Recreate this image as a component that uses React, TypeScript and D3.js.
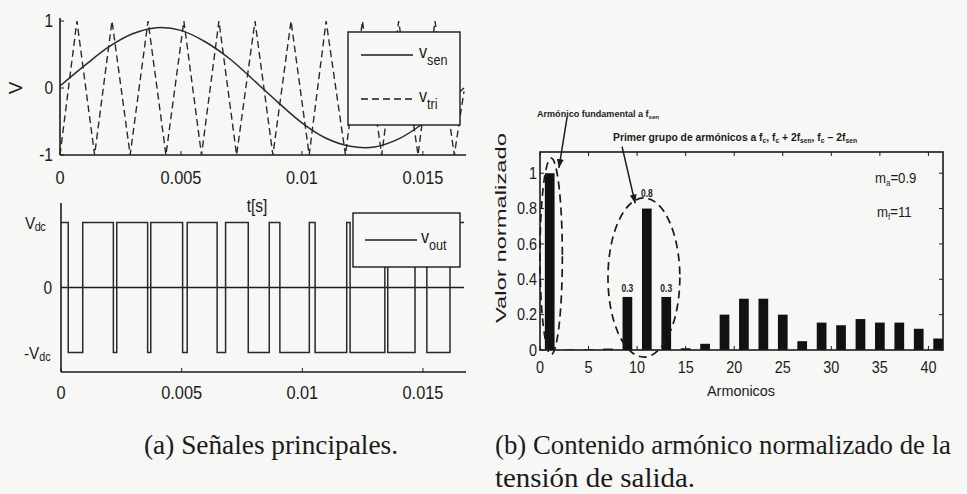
import React, { useEffect, useRef } from "react";
import * as d3 from "d3";

// (a) top: reference sine, read every 1 ms off the picture
const sineTimes = [0, 0.001, 0.002, 0.003, 0.004, 0.005, 0.006, 0.007, 0.008, 0.009, 0.01, 0.011, 0.012, 0.013, 0.014, 0.015, 0.016, 0.0167];
const sineValues = [0.03, 0.33, 0.61, 0.81, 0.9, 0.86, 0.69, 0.44, 0.12, -0.21, -0.52, -0.75, -0.87, -0.88, -0.76, -0.53, -0.22, 0];

// (a) top: triangular carrier, peaks and troughs
const triTimes = [0, 0.0007, 0.00143, 0.00215, 0.0029, 0.00364, 0.00438, 0.00512, 0.00585, 0.00657, 0.0073, 0.00806, 0.0088, 0.00955, 0.0103, 0.011, 0.0118, 0.0125, 0.0133, 0.014, 0.0148, 0.0155, 0.0163, 0.0167];
const triValues = [-1, 1, -1, 1, -1, 1, -1, 1, -1, 1, -1, 1, -1, 1, -1, 1, -1, 1, -1, 1, -1, 1, -1, -0.05];

// (a) bottom: v_out starts at +Vdc and toggles at these instants
const outStartLevel = 1;
const outSwitchTimes = [0.0003, 0.0009, 0.00217, 0.00231, 0.00359, 0.00372, 0.00504, 0.00523, 0.00647, 0.00682, 0.00776, 0.00863, 0.00907, 0.01029, 0.01053, 0.01184, 0.01198, 0.01342, 0.01354, 0.01467, 0.01516, 0.01612];
const timeEnd = 0.0167;

const timeTicks = [0, 0.005, 0.01, 0.015];
const timeTickLabels = ["0", "0.005", "0.01", "0.015"];
const signalTicks = [1, 0, -1];
const signalTickLabels = ["1", "0", "-1"];

// (b) normalized harmonic content
const harmonicOrders = [1, 3, 5, 7, 9, 11, 13, 15, 17, 19, 21, 23, 25, 27, 29, 31, 33, 35, 37, 39, 41];
const harmonicValues = [1.0, 0.003, 0.004, 0.008, 0.3, 0.8, 0.3, 0.01, 0.035, 0.2, 0.29, 0.29, 0.2, 0.05, 0.155, 0.14, 0.175, 0.155, 0.155, 0.12, 0.065];
const harmonicTicks = [0, 5, 10, 15, 20, 25, 30, 35, 40];
const normTicks = [0, 0.2, 0.4, 0.6, 0.8, 1];
const normTickLabels = ["0", "0.2", "0.4", "0.6", "0.8", "1"];
const labelledOrders = [9, 11, 13];
const labelledTexts = ["0.3", "0.8", "0.3"];

const INK = "#1b1b1b";
const BG = "#f7f7f5";
const SANS = "'Liberation Sans', Arial, sans-serif";
const SERIF = "'Liberation Serif', 'Times New Roman', serif";

// the scan is squeezed sideways, so narrow every text a little
function squeeze(sel: any, k: number) {
  sel.each(function (this: any) {
    const w = this.getComputedTextLength();
    d3.select(this).attr("textLength", w * k).attr("lengthAdjust", "spacingAndGlyphs");
  });
}

// text with subscripts: parts = [text, isSub][]
function richText(g: any, x: number, y: number, parts: [string, boolean][], size: number, subSize: number, subDy: number) {
  const t = g.append("text").attr("x", x).attr("y", y).attr("font-size", size).attr("fill", INK);
  let down = false;
  parts.forEach(([s, sub]) => {
    const ts = t.append("tspan").text(s).attr("font-size", sub ? subSize : size);
    if (sub && !down) { ts.attr("dy", subDy); down = true; }
    else if (!sub && down) { ts.attr("dy", -subDy); down = false; }
  });
  return t;
}

function drawSignals(svg: any) {
  const x = d3.scaleLinear().domain([0, timeEnd]).range([60, 464]);
  const y = d3.scaleLinear().domain([-1, 1]).range([155, 21]);
  const g = svg.append("g").attr("font-family", SANS);

  g.append("line").attr("x1", x(0)).attr("x2", 466).attr("y1", y(-1)).attr("y2", y(-1)).attr("stroke", INK).attr("stroke-width", 1.6);
  g.append("line").attr("x1", x(0)).attr("x2", x(0)).attr("y1", 18).attr("y2", y(-1)).attr("stroke", INK).attr("stroke-width", 1.6);

  g.selectAll(".xt").data(timeTicks).enter().append("line")
    .attr("x1", (d: number) => x(d)).attr("x2", (d: number) => x(d))
    .attr("y1", y(-1)).attr("y2", y(-1) - 4).attr("stroke", INK);
  g.selectAll(".yt").data(signalTicks).enter().append("line")
    .attr("x1", x(0)).attr("x2", x(0) + 4)
    .attr("y1", (d: number) => y(d)).attr("y2", (d: number) => y(d)).attr("stroke", INK);

  const xl = g.selectAll(".xl").data(timeTicks).enter().append("text")
    .attr("x", (d: number) => x(d)).attr("y", 184).attr("text-anchor", "middle")
    .attr("font-size", 19).attr("fill", INK).text((d: number, i: number) => timeTickLabels[i]);
  squeeze(xl, 0.86);
  const yl = g.selectAll(".yl").data(signalTicks).enter().append("text")
    .attr("x", 53).attr("y", (d: number) => y(d)).attr("dy", "0.36em").attr("text-anchor", "end")
    .attr("font-size", 18).attr("fill", INK).text((d: number, i: number) => signalTickLabels[i]);
  squeeze(yl, 0.86);

  g.append("text").attr("transform", `translate(22,${y(0)}) rotate(-90)`)
    .attr("text-anchor", "middle").attr("font-size", 19).attr("fill", INK).text("V");
  const ts = g.append("text").attr("x", 257).attr("y", 212).attr("text-anchor", "middle")
    .attr("font-size", 18).attr("fill", INK).text("t[s]");
  squeeze(ts, 0.86);

  const line = d3.line<[number, number]>().x(d => x(d[0])).y(d => y(d[1]));
  g.append("path").attr("d", line.curve(d3.curveCatmullRom.alpha(0.5))(d3.zip(sineTimes, sineValues) as any))
    .attr("fill", "none").attr("stroke", "#2a2a2a").attr("stroke-width", 1.5);
  g.append("path").attr("d", d3.line<[number, number]>().x(d => x(d[0])).y(d => y(d[1]))(d3.zip(triTimes, triValues) as any))
    .attr("fill", "none").attr("stroke", "#2a2a2a").attr("stroke-width", 1.4).attr("stroke-dasharray", "7,4");

  // legend
  const lg = g.append("g");
  lg.append("rect").attr("x", 348).attr("y", 32).attr("width", 112).attr("height", 93)
    .attr("fill", BG).attr("stroke", INK).attr("stroke-width", 1.4);
  lg.append("line").attr("x1", 361).attr("x2", 413).attr("y1", 55).attr("y2", 55).attr("stroke", INK).attr("stroke-width", 1.5);
  lg.append("line").attr("x1", 361).attr("x2", 413).attr("y1", 99).attr("y2", 99).attr("stroke", INK).attr("stroke-width", 1.4).attr("stroke-dasharray", "7,4");
  squeeze(richText(lg, 419, 58, [["v", false], ["sen", true]], 18, 14, 7), 0.9);
  squeeze(richText(lg, 419, 102, [["v", false], ["tri", true]], 18, 14, 7), 0.9);
}

function drawOutput(svg: any) {
  const x = d3.scaleLinear().domain([0, timeEnd]).range([61, 464]);
  const y = d3.scaleLinear().domain([-1.3, 1.3]).range([372, 203]);
  const g = svg.append("g").attr("font-family", SANS);

  g.append("line").attr("x1", x(0)).attr("x2", 466).attr("y1", y(-1.3)).attr("y2", y(-1.3)).attr("stroke", INK).attr("stroke-width", 1.6);
  g.append("line").attr("x1", x(0)).attr("x2", x(0)).attr("y1", y(1.3)).attr("y2", y(-1.3)).attr("stroke", INK).attr("stroke-width", 1.6);
  g.append("line").attr("x1", x(0)).attr("x2", x(timeEnd)).attr("y1", y(0)).attr("y2", y(0)).attr("stroke", INK).attr("stroke-width", 1.4);

  g.selectAll(".xt").data(timeTicks).enter().append("line")
    .attr("x1", (d: number) => x(d)).attr("x2", (d: number) => x(d))
    .attr("y1", y(-1.3)).attr("y2", y(-1.3) - 4).attr("stroke", INK);

  const xl = g.selectAll(".xl").data(timeTicks).enter().append("text")
    .attr("x", (d: number) => x(d)).attr("y", 399).attr("text-anchor", "middle")
    .attr("font-size", 19).attr("fill", INK).text((d: number, i: number) => timeTickLabels[i]);
  squeeze(xl, 0.86);

  squeeze(richText(g, 25, y(1) + 6, [["V", false], ["dc", true]], 17, 12, 2).attr("letter-spacing", -0.5), 0.9);
  const zl = g.append("text").attr("x", 52).attr("y", y(0)).attr("dy", "0.36em").attr("text-anchor", "end")
    .attr("font-size", 18).attr("fill", INK).text("0");
  squeeze(zl, 0.86);
  squeeze(richText(g, 24, y(-1) + 6, [["-V", false], ["dc", true]], 17, 12, 2), 0.9);

  const pts: [number, number][] = [[0, outStartLevel]];
  let level = outStartLevel;
  outSwitchTimes.forEach(t => { level = -level; pts.push([t, level]); });
  pts.push([timeEnd, level]);
  g.append("path")
    .attr("d", d3.line<[number, number]>().x(d => x(d[0])).y(d => y(d[1])).curve(d3.curveStepAfter)(pts))
    .attr("fill", "none").attr("stroke", "#2a2a2a").attr("stroke-width", 1.5);

  const lg = g.append("g");
  lg.append("rect").attr("x", 353).attr("y", 213).attr("width", 107).attr("height", 54)
    .attr("fill", BG).attr("stroke", INK).attr("stroke-width", 1.4);
  lg.append("line").attr("x1", 365).attr("x2", 417).attr("y1", 240).attr("y2", 240).attr("stroke", INK).attr("stroke-width", 1.5);
  squeeze(richText(lg, 421, 243, [["v", false], ["out", true]], 18, 14, 7), 0.9);
}

function drawSpectrum(svg: any) {
  const x = d3.scaleLinear().domain([0, 41.5]).range([540, 943]);
  const y = d3.scaleLinear().domain([0, 1.12]).range([350, 152]);
  const g = svg.append("g").attr("font-family", SANS);

  const defs = svg.append("defs");
  defs.append("marker").attr("id", "ah").attr("viewBox", "0 0 10 8").attr("refX", 10).attr("refY", 4)
    .attr("markerWidth", 9).attr("markerHeight", 7).attr("markerUnits", "userSpaceOnUse").attr("orient", "auto")
    .append("path").attr("d", "M0,0L10,4L0,8z").attr("fill", INK);

  g.selectAll(".bar").data(harmonicOrders).enter().append("rect")
    .attr("x", (d: number) => x(d - 0.5)).attr("width", (d: number) => x(d + 0.5) - x(d - 0.5))
    .attr("y", (d: number, i: number) => y(harmonicValues[i]))
    .attr("height", (d: number, i: number) => y(0) - y(harmonicValues[i]))
    .attr("fill", "#111");

  g.append("rect").attr("x", x(0)).attr("y", y(1.12)).attr("width", x(41.5) - x(0)).attr("height", y(0) - y(1.12))
    .attr("fill", "none").attr("stroke", INK).attr("stroke-width", 1.6);

  harmonicTicks.forEach(d => {
    g.append("line").attr("x1", x(d)).attr("x2", x(d)).attr("y1", y(0)).attr("y2", y(0) - 4).attr("stroke", INK);
    g.append("line").attr("x1", x(d)).attr("x2", x(d)).attr("y1", y(1.12)).attr("y2", y(1.12) + 4).attr("stroke", INK);
  });
  normTicks.forEach(d => {
    g.append("line").attr("x1", x(0)).attr("x2", x(0) + 4).attr("y1", y(d)).attr("y2", y(d)).attr("stroke", INK);
    g.append("line").attr("x1", x(41.5)).attr("x2", x(41.5) - 4).attr("y1", y(d)).attr("y2", y(d)).attr("stroke", INK);
  });

  const xl = g.selectAll(".xl").data(harmonicTicks).enter().append("text")
    .attr("x", (d: number) => x(d)).attr("y", 373).attr("text-anchor", "middle")
    .attr("font-size", 16).attr("fill", INK).text((d: number) => String(d));
  squeeze(xl, 0.9);
  const yl = g.selectAll(".yl").data(normTicks).enter().append("text")
    .attr("x", 537).attr("y", (d: number) => y(d)).attr("dy", "0.36em").attr("text-anchor", "end")
    .attr("font-size", 16).attr("fill", INK).text((d: number, i: number) => normTickLabels[i]);
  squeeze(yl, 0.9);

  g.append("text").attr("x", 741).attr("y", 396).attr("text-anchor", "middle").attr("font-size", 15)
    .attr("fill", INK).attr("textLength", 68).attr("lengthAdjust", "spacingAndGlyphs").text("Armonicos");
  g.append("text").attr("transform", "translate(506,228) rotate(-90)").attr("text-anchor", "middle").attr("font-size", 15)
    .attr("fill", INK).attr("textLength", 190).attr("lengthAdjust", "spacingAndGlyphs").text("Valor normalizado");

  // values written over the first group of harmonics
  const lift = [5, 12, 5];
  labelledOrders.forEach((h, i) => {
    const v = harmonicValues[harmonicOrders.indexOf(h)];
    const t = g.append("text").attr("x", x(h)).attr("y", y(v) - lift[i]).attr("text-anchor", "middle")
      .attr("font-size", 10).attr("font-weight", "bold").attr("fill", INK).text(labelledTexts[i]);
    squeeze(t, 0.85);
  });

  // dashed ellipses around the fundamental and the first group
  const ell = (cx: number, cy: number, rx: number, ry: number) =>
    g.append("ellipse").attr("cx", x(cx)).attr("cy", y(cy)).attr("rx", x(rx) - x(0)).attr("ry", y(0) - y(ry))
      .attr("fill", "none").attr("stroke", INK).attr("stroke-width", 1.7).attr("stroke-dasharray", "8,5");
  ell(1.15, 0.53, 1.15, 0.555);
  ell(10.7, 0.41, 3.7, 0.45);

  const arrow = (a: [number, number], b: [number, number]) =>
    g.append("line").attr("x1", x(a[0])).attr("y1", y(a[1])).attr("x2", x(b[0])).attr("y2", y(b[1]))
      .attr("stroke", INK).attr("stroke-width", 1.5).attr("marker-end", "url(#ah)");
  arrow([2.8, 1.32], [1.95, 1.03]);
  arrow([8.45, 1.15], [9.8, 0.83]);

  richText(g, 537, 117, [["Armónico fundamental a f", false], ["sen", true]], 9, 6, 2)
    .attr("font-weight", "bold").attr("textLength", 122).attr("lengthAdjust", "spacingAndGlyphs");
  richText(g, 613, 141, [["Primer grupo de armónicos a f", false], ["c", true], [", f", false], ["c", true], [" + 2f", false], ["sen", true], [", f", false], ["c", true], [" − 2f", false], ["sen", true]], 10, 6.5, 2)
    .attr("font-weight", "bold").attr("textLength", 244).attr("lengthAdjust", "spacingAndGlyphs");

  squeeze(richText(g, 875, 183, [["m", false], ["a", true], ["=0.9", false]], 15, 9, 3), 0.88);
  squeeze(richText(g, 877, 217, [["m", false], ["f", true], ["=11", false]], 15, 9, 3), 0.88);
}

function drawCaptions(svg: any) {
  const g = svg.append("g").attr("font-family", SERIF).attr("fill", INK).attr("font-size", 27);
  g.append("text").attr("x", 144).attr("y", 454).attr("textLength", 254).attr("lengthAdjust", "spacingAndGlyphs").text("(a) Señales principales.");
  g.append("text").attr("x", 495).attr("y", 454).attr("textLength", 456).attr("lengthAdjust", "spacingAndGlyphs").text("(b) Contenido armónico normalizado de la");
  g.append("text").attr("x", 495).attr("y", 487).attr("textLength", 200).attr("lengthAdjust", "spacingAndGlyphs").text("tensión de salida.");
}

export default function App() {
  const ref = useRef<SVGSVGElement>(null);

  useEffect(() => {
    const svg = d3.select(ref.current);
    svg.selectAll("*").remove();
    drawSignals(svg);
    drawOutput(svg);
    drawSpectrum(svg);
    drawCaptions(svg);
  }, []);

  return (
    <svg ref={ref} width={967} height={494}
      style={{ position: "absolute", left: 0, top: 0, background: BG, display: "block" }} />
  );
}
